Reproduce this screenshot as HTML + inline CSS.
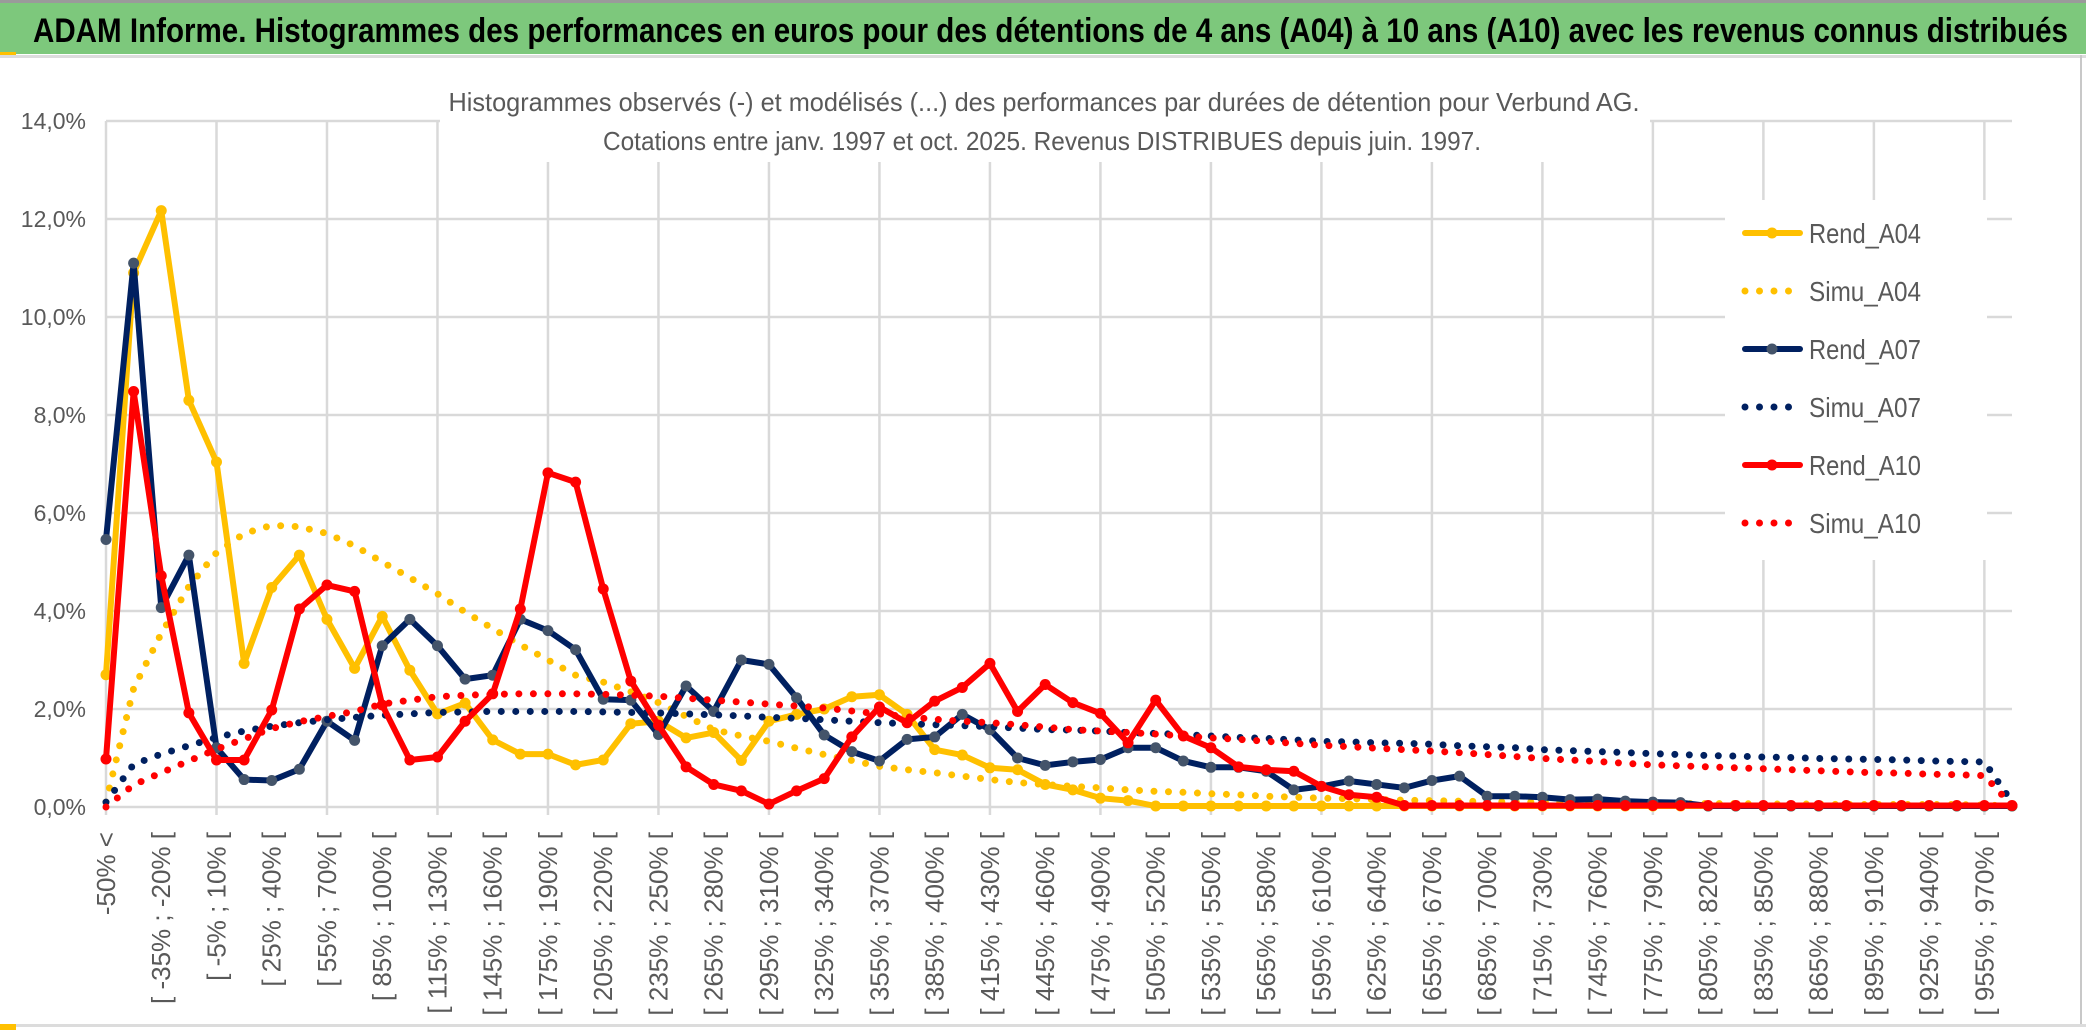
<!DOCTYPE html>
<html><head><meta charset="utf-8"><style>
html,body{margin:0;padding:0;background:#fff;}
svg{display:block;}
text{font-family:"Liberation Sans Narrow","Liberation Sans",sans-serif;}
</style></head><body>
<svg id="chart" width="2086" height="1033" viewBox="0 0 2086 1033" xmlns="http://www.w3.org/2000/svg">
<rect x="0" y="0" width="2086" height="1033" fill="#fff"/>
<rect x="0" y="0" width="2086" height="3" fill="#9a9a9a"/>
<rect x="0" y="3" width="2086" height="51" fill="#7dc87c"/>
<rect x="0" y="52" width="16" height="3" fill="#ffc000"/>
<rect x="0" y="55" width="2086" height="3" fill="#dcdcdc"/>
<text x="33" y="42" font-size="34" font-weight="bold" fill="#000" textLength="2035" lengthAdjust="spacingAndGlyphs">ADAM Informe. Histogrammes des performances en euros pour des détentions de 4 ans (A04) à 10 ans (A10) avec les revenus connus distribués</text>
<rect x="2080" y="55" width="2" height="970" fill="#c8c8c8"/>
<rect x="0" y="1024" width="2086" height="3" fill="#dcdcdc"/>
<rect x="0" y="1024" width="16" height="6" fill="#ffc000"/>
<g id="grid"></g>
<text x="1044" y="111" font-size="26" fill="#595959" text-anchor="middle" textLength="1191" lengthAdjust="spacingAndGlyphs">Histogrammes observés (-) et modélisés (...) des performances par durées de détention pour Verbund AG.</text>
<text x="1042" y="150" font-size="26" fill="#595959" text-anchor="middle" textLength="878" lengthAdjust="spacingAndGlyphs">Cotations entre janv. 1997 et oct. 2025. Revenus DISTRIBUES depuis juin. 1997.</text>
<g id="yaxis"></g>
<g id="xaxis"></g>
<g id="series"></g>
<g id="legend"></g>
</svg>
<script>
const categories = ["-50% <"];
for (let k = 1; k < 70; k++) { const lo = -50 + 15 * (k - 1); categories.push("[ " + lo + "% ; " + (lo + 15) + "% ["); }
const yTicks = [0, 2, 4, 6, 8, 10, 12, 14];
const yTickLabels = ["0,0%", "2,0%", "4,0%", "6,0%", "8,0%", "10,0%", "12,0%", "14,0%"];
const seriesNames = ["Rend_A04", "Simu_A04", "Rend_A07", "Simu_A07", "Rend_A10", "Simu_A10"];
const rendA04 = [2.7,10.9,12.17,8.3,7.04,2.93,4.48,5.14,3.83,2.83,3.89,2.79,1.9,2.12,1.37,1.08,1.08,0.86,0.96,1.7,1.75,1.41,1.52,0.95,1.75,1.89,2.0,2.25,2.29,1.89,1.17,1.06,0.8,0.76,0.46,0.35,0.18,0.13,0.02,0.02,0.02,0.02,0.02,0.02,0.02,0.02,0.02,0.02,0.02,0.02,0.02,0.02,0.02,0.02,0.02,0.02,0.02,0.02,0.02,0.02,0.02,0.02,0.02,0.02,0.02,0.02,0.02,0.02,0.02,0.02];
const simuA04 = [0.1,2.42,3.54,4.5,5.19,5.58,5.75,5.72,5.58,5.33,5.0,4.68,4.35,3.98,3.64,3.31,3.0,2.69,2.55,2.35,2.13,1.85,1.58,1.45,1.34,1.2,1.07,0.95,0.83,0.76,0.7,0.63,0.56,0.5,0.46,0.42,0.39,0.35,0.32,0.3,0.27,0.25,0.22,0.2,0.18,0.17,0.15,0.14,0.13,0.12,0.11,0.1,0.1,0.09,0.09,0.08,0.08,0.07,0.07,0.07,0.06,0.06,0.06,0.05,0.05,0.05,0.05,0.05,0.04,0.02];
const rendA07 = [5.46,11.1,4.07,5.14,1.21,0.56,0.54,0.77,1.75,1.36,3.29,3.83,3.29,2.61,2.69,3.83,3.6,3.21,2.2,2.18,1.48,2.47,1.95,3.0,2.91,2.23,1.47,1.13,0.94,1.38,1.43,1.89,1.58,1.0,0.85,0.92,0.97,1.21,1.21,0.94,0.81,0.81,0.73,0.35,0.42,0.53,0.46,0.39,0.54,0.63,0.22,0.22,0.2,0.15,0.16,0.12,0.1,0.09,0.02,0.02,0.02,0.02,0.02,0.02,0.02,0.02,0.02,0.02,0.02,0.02];
const simuA07 = [0.1,0.87,1.08,1.25,1.42,1.55,1.65,1.72,1.78,1.83,1.87,1.9,1.93,1.94,1.95,1.95,1.95,1.95,1.94,1.93,1.92,1.9,1.88,1.86,1.83,1.81,1.78,1.75,1.72,1.7,1.68,1.66,1.64,1.61,1.58,1.57,1.55,1.52,1.5,1.48,1.45,1.42,1.4,1.37,1.34,1.33,1.31,1.3,1.28,1.25,1.23,1.21,1.17,1.15,1.13,1.11,1.09,1.07,1.05,1.04,1.02,1.01,0.99,0.98,0.97,0.96,0.94,0.93,0.92,0.1];
const rendA10 = [0.98,8.48,4.72,1.92,0.96,0.96,1.98,4.04,4.53,4.4,2.08,0.96,1.02,1.75,2.31,4.04,6.82,6.63,4.45,2.57,1.67,0.82,0.46,0.33,0.06,0.33,0.58,1.43,2.04,1.72,2.16,2.44,2.93,1.95,2.5,2.13,1.91,1.31,2.18,1.45,1.21,0.82,0.76,0.73,0.42,0.25,0.2,0.03,0.03,0.03,0.03,0.03,0.03,0.03,0.03,0.03,0.03,0.03,0.03,0.03,0.03,0.03,0.03,0.03,0.03,0.03,0.03,0.03,0.03,0.03];
const simuA10 = [0.0,0.45,0.7,0.94,1.18,1.39,1.6,1.74,1.85,1.95,2.1,2.18,2.25,2.28,2.3,2.31,2.31,2.31,2.3,2.28,2.26,2.22,2.18,2.14,2.1,2.06,2.02,1.96,1.9,1.84,1.79,1.75,1.72,1.68,1.63,1.58,1.55,1.52,1.49,1.45,1.41,1.38,1.34,1.3,1.26,1.23,1.2,1.17,1.14,1.11,1.07,1.03,0.99,0.96,0.93,0.89,0.86,0.84,0.82,0.8,0.78,0.76,0.74,0.72,0.7,0.69,0.67,0.66,0.64,0.03];

const NS = "http://www.w3.org/2000/svg";
const X0 = 106, X1 = 2012, Y0 = 807, Y14 = 121;
const xPos = i => X0 + (X1 - X0) * i / (categories.length - 1);
const yPos = v => Y0 - (Y0 - Y14) * v / 14;
function mk(tag, parent) { const e = document.createElementNS(NS, tag); parent.appendChild(e); return e; }

const grid = document.getElementById("grid");
yTicks.forEach(t => {
  const l = mk("line", grid);
  
  
  l.setAttribute("x1", X0); l.setAttribute("x2", X1); l.setAttribute("y1", yPos(t)); l.setAttribute("y2", yPos(t));
  l.setAttribute("stroke", "#d9d9d9"); l.setAttribute("stroke-width", "2.5");
});
for (let i = 0; i < categories.length; i += 4) {
  const l = mk("line", grid);
  
  
  l.setAttribute("x1", xPos(i)); l.setAttribute("x2", xPos(i)); l.setAttribute("y1", yPos(14)); l.setAttribute("y2", Y0 + 8);
  l.setAttribute("stroke", "#d9d9d9"); l.setAttribute("stroke-width", "2.5");
}
[[440, 70, 1210, 92], [1725, 200, 262, 360]].forEach((r, k) => {
  const m = mk("rect", grid);
  
  
  m.setAttribute("x", r[0]); m.setAttribute("y", r[1]); m.setAttribute("width", r[2]); m.setAttribute("height", r[3]); m.setAttribute("fill", "#fff");
});

const ya = document.getElementById("yaxis");
yTicks.forEach((t, k) => {
  const tx = mk("text", ya);
  
  
  tx.setAttribute("x", 86); tx.setAttribute("y", yPos(t) + 8); tx.setAttribute("text-anchor", "end");
  tx.setAttribute("font-size", "23"); tx.setAttribute("fill", "#595959");
  tx.textContent = yTickLabels[k];
});

const xa = document.getElementById("xaxis");
for (let i = 0; i < categories.length - 1; i += 2) {
  const tx = mk("text", xa);
  
  
  const x = xPos(i) + 9, y = 832;
  tx.setAttribute("transform", "translate(" + x + "," + y + ") rotate(-90)");
  tx.setAttribute("text-anchor", "end"); tx.setAttribute("font-size", "26"); tx.setAttribute("fill", "#595959");
  tx.style.fontFamily = '"Liberation Sans", sans-serif';
  tx.textContent = categories[i];
}

const sg = document.getElementById("series");
function drawLine(vals, color, marker, dotted, name) {
  const g = mk("g", sg);
  
  
  const p = mk("polyline", g);
  
  
  p.setAttribute("points", vals.map((v, i) => xPos(i) + "," + yPos(v)).join(" "));
  p.setAttribute("fill", "none"); p.setAttribute("stroke", color);
  p.setAttribute("stroke-linejoin", "round"); p.setAttribute("stroke-linecap", "round");
  if (dotted) { p.setAttribute("stroke-width", "7"); p.setAttribute("stroke-dasharray", "0 14.5"); }
  else p.setAttribute("stroke-width", "6");
  if (marker) vals.forEach((v, i) => {
    const c = mk("circle", g);
    
    
    c.setAttribute("cx", xPos(i)); c.setAttribute("cy", yPos(v)); c.setAttribute("r", "5.5"); c.setAttribute("fill", marker);
  });
}
drawLine(rendA04, "#ffc000", "#ffc000", false, "rend-a04");
drawLine(simuA04, "#ffc000", null, true, "simu-a04");
drawLine(rendA07, "#002060", "#44546a", false, "rend-a07");
drawLine(simuA07, "#002060", null, true, "simu-a07");
drawLine(rendA10, "#ff0000", "#ff0000", false, "rend-a10");
drawLine(simuA10, "#ff0000", null, true, "simu-a10");

const lg = document.getElementById("legend");
const legendColors = ["#ffc000", "#ffc000", "#002060", "#002060", "#ff0000", "#ff0000"];
const legendMarkers = ["#ffc000", null, "#44546a", null, "#ff0000", null];
seriesNames.forEach((n, k) => {
  const y = 233 + k * 58;
  const g = mk("g", lg);
  
  
  const l = mk("line", g);
  
  
  l.setAttribute("x1", 1745); l.setAttribute("x2", 1800); l.setAttribute("y1", y); l.setAttribute("y2", y);
  l.setAttribute("stroke", legendColors[k]); l.setAttribute("stroke-linecap", "round");
  if (legendMarkers[k]) {
    l.setAttribute("stroke-width", "6");
    const c = mk("circle", g);
    
    
    c.setAttribute("cx", 1772); c.setAttribute("cy", y); c.setAttribute("r", "5.5"); c.setAttribute("fill", legendMarkers[k]);
  } else { l.setAttribute("stroke-width", "7"); l.setAttribute("stroke-dasharray", "0 14.5"); }
  const t = mk("text", g);
  
  
  t.setAttribute("x", 1809); t.setAttribute("y", y + 10); t.setAttribute("font-size", "28");
  t.setAttribute("fill", "#595959"); t.setAttribute("textLength", "112"); t.setAttribute("lengthAdjust", "spacingAndGlyphs");
  t.textContent = n;
});
</script>
</body></html>
